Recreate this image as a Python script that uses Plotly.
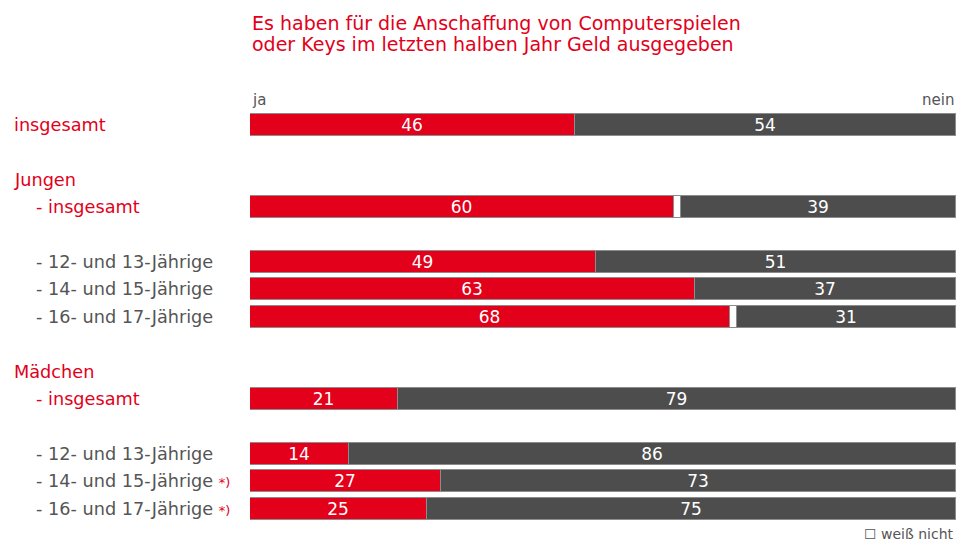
import plotly.graph_objects as go

# ---- data ----
labels = ["insgesamt", "- insgesamt", "- 12- und 13-Jährige", "- 14- und 15-Jährige",
          "- 16- und 17-Jährige", "- insgesamt", "- 12- und 13-Jährige",
          "- 14- und 15-Jährige", "- 16- und 17-Jährige"]
ja = [46, 60, 49, 63, 68, 21, 14, 27, 25]
weiss_nicht = [0, 1, 0, 0, 1, 0, 0, 0, 0]
nein = [54, 39, 51, 37, 31, 79, 86, 73, 75]
footnote = [False, False, False, False, False, False, False, True, True]
headers = ["Jungen", "Mädchen"]
title_lines = ["Es haben für die Anschaffung von Computerspielen",
               "oder Keys im letzten halben Jahr Geld ausgegeben"]

# ---- layout helpers ----
W, H = 957, 541
RED = "#e2001a"
GREY = "#4d4d4d"
TXT = "#555555"
OUTL = "#8c8c8c"
FONT = "DejaVu Sans"
slots = [0, 3, 5, 6, 7, 10, 12, 13, 14]
header_slots = [2, 9]
indent = [0, 1, 1, 1, 1, 1, 1, 1, 1]
label_red = [True, True, False, False, False, True, False, False, False]
row_px = 27.4
first_px = 125
y_top = -first_px / row_px
y_bot = (H - first_px) / row_px

fig = go.Figure()
common = dict(orientation="h", width=0.8, hoverinfo="skip")
fig.add_trace(go.Bar(y=slots, x=ja, name="ja",
                     marker=dict(color=RED, line=dict(color=OUTL, width=1)),
                     text=[str(v) for v in ja], textposition="inside",
                     insidetextanchor="middle", constraintext="none",
                     textfont=dict(color="white", size=17, family=FONT), **common))
fig.add_trace(go.Bar(y=slots, x=weiss_nicht, name="weiß nicht",
                     marker=dict(color="white", line=dict(color=OUTL, width=1)),
                     **common))
fig.add_trace(go.Bar(y=slots, x=nein, name="nein",
                     marker=dict(color=GREY, line=dict(color=OUTL, width=1)),
                     text=[str(v) for v in nein], textposition="inside",
                     insidetextanchor="middle", constraintext="none",
                     textfont=dict(color="white", size=17, family=FONT), **common))

ann = []
x_left = [12 / W, 34 / W]
for lab, s, ind, red, fn in zip(labels, slots, indent, label_red, footnote):
    t = lab
    if fn:
        t += " <span style='color:%s;font-size:13px'>*)</span>" % RED
    ann.append(dict(text=t, x=x_left[ind], y=s, xref="paper", yref="y",
                    xanchor="left", yanchor="middle", showarrow=False,
                    font=dict(size=17.7, family=FONT, color=RED if red else TXT)))
for h, s in zip(headers, header_slots):
    ann.append(dict(text=h, x=x_left[0], y=s, xref="paper", yref="y",
                    xanchor="left", yanchor="middle", showarrow=False,
                    font=dict(size=17.7, family=FONT, color=RED)))
ann.append(dict(text="ja", x=0, y=-0.9, xref="x", yref="y", xanchor="left",
                yanchor="middle", showarrow=False, font=dict(size=15, family=FONT, color=TXT)))
ann.append(dict(text="nein", x=100, y=-0.9, xref="x", yref="y", xanchor="right",
                yanchor="middle", showarrow=False, font=dict(size=15, family=FONT, color=TXT)))
ann.append(dict(text="☐ weiß nicht", x=100, y=14.92, xref="x", yref="y", xanchor="right",
                yanchor="middle", showarrow=False, font=dict(size=14, family=FONT, color=TXT)))
for i, line in enumerate(title_lines):
    ann.append(dict(text=line, x=250 / W, y=1 - (23 + 20.5 * i) / H, xref="paper",
                    yref="paper", xanchor="left", yanchor="middle", showarrow=False,
                    font=dict(size=19, family=FONT, color=RED)))

fig.update_layout(
    width=W, height=H, barmode="stack", showlegend=False,
    margin=dict(l=0, r=0, t=0, b=0),
    plot_bgcolor="white", paper_bgcolor="white",
    xaxis=dict(domain=[250 / W, 956 / W], range=[0, 100], visible=False),
    yaxis=dict(range=[y_bot, y_top], visible=False),
    annotations=ann, bargap=0,
)
fig.write_html("out.html", config={"displayModeBar": False},
               post_script="document.body.style.margin='0';document.body.style.overflow='hidden';")
